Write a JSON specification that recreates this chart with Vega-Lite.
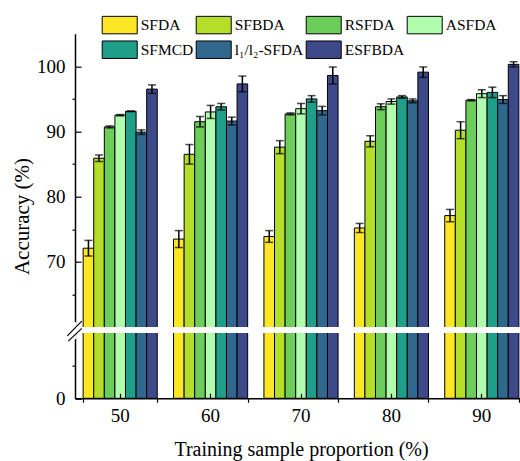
{
  "$schema": "https://vega.github.io/schema/vega-lite/v6.json",
  "width": 452,
  "height": 364.6,
  "autosize": {"type": "none"},
  "padding": {"left": 75, "top": 33.7, "right": 0, "bottom": 62.7},
  "config": {
    "view": {"stroke": null},
    "font": "Liberation Serif",
    "axis": {
      "labelFont": "Liberation Serif",
      "titleFont": "Liberation Serif",
      "labelColor": "black",
      "titleColor": "black",
      "domainColor": "black",
      "tickColor": "black",
      "titleFontWeight": "normal",
      "grid": false
    }
  },
  "data": {
    "values": [
      {"p": "50", "m": "SFDA", "v": 72.1, "lo": 70.9, "hi": 73.3},
      {"p": "50", "m": "SFBDA", "v": 85.9, "lo": 85.4, "hi": 86.4},
      {"p": "50", "m": "RSFDA", "v": 90.7, "lo": 90.55, "hi": 90.85},
      {"p": "50", "m": "ASFDA", "v": 92.5, "lo": 92.4, "hi": 92.6},
      {"p": "50", "m": "SFMCD", "v": 93.1, "lo": 93.05, "hi": 93.15},
      {"p": "50", "m": "l₁/l₂-SFDA", "v": 89.9, "lo": 89.55, "hi": 90.25},
      {"p": "50", "m": "ESFBDA", "v": 96.5, "lo": 95.85, "hi": 97.15},
      {"p": "60", "m": "SFDA", "v": 73.5, "lo": 72.2, "hi": 74.8},
      {"p": "60", "m": "SFBDA", "v": 86.5, "lo": 85.0, "hi": 88.0},
      {"p": "60", "m": "RSFDA", "v": 91.5, "lo": 90.7, "hi": 92.3},
      {"p": "60", "m": "ASFDA", "v": 93.0, "lo": 92.0, "hi": 94.0},
      {"p": "60", "m": "SFMCD", "v": 93.8, "lo": 93.3, "hi": 94.3},
      {"p": "60", "m": "l₁/l₂-SFDA", "v": 91.6, "lo": 91.0, "hi": 92.2},
      {"p": "60", "m": "ESFBDA", "v": 97.3, "lo": 96.1, "hi": 98.5},
      {"p": "70", "m": "SFDA", "v": 73.9, "lo": 73.0, "hi": 74.8},
      {"p": "70", "m": "SFBDA", "v": 87.6, "lo": 86.6, "hi": 88.6},
      {"p": "70", "m": "RSFDA", "v": 92.7, "lo": 92.55, "hi": 92.85},
      {"p": "70", "m": "ASFDA", "v": 93.5, "lo": 92.7, "hi": 94.3},
      {"p": "70", "m": "SFMCD", "v": 95.0, "lo": 94.5, "hi": 95.5},
      {"p": "70", "m": "l₁/l₂-SFDA", "v": 93.2, "lo": 92.55, "hi": 93.85},
      {"p": "70", "m": "ESFBDA", "v": 98.6, "lo": 97.3, "hi": 99.9},
      {"p": "80", "m": "SFDA", "v": 75.2, "lo": 74.5, "hi": 75.9},
      {"p": "80", "m": "SFBDA", "v": 88.5, "lo": 87.65, "hi": 89.35},
      {"p": "80", "m": "RSFDA", "v": 93.8, "lo": 93.35, "hi": 94.25},
      {"p": "80", "m": "ASFDA", "v": 94.6, "lo": 94.2, "hi": 95.0},
      {"p": "80", "m": "SFMCD", "v": 95.3, "lo": 95.1, "hi": 95.5},
      {"p": "80", "m": "l₁/l₂-SFDA", "v": 94.7, "lo": 94.4, "hi": 95.0},
      {"p": "80", "m": "ESFBDA", "v": 99.1, "lo": 98.3, "hi": 99.9},
      {"p": "90", "m": "SFDA", "v": 77.1, "lo": 76.15, "hi": 78.05},
      {"p": "90", "m": "SFBDA", "v": 90.2, "lo": 88.9, "hi": 91.5},
      {"p": "90", "m": "RSFDA", "v": 94.8, "lo": 94.7, "hi": 94.9},
      {"p": "90", "m": "ASFDA", "v": 95.8, "lo": 95.2, "hi": 96.4},
      {"p": "90", "m": "SFMCD", "v": 96.0, "lo": 95.2, "hi": 96.8},
      {"p": "90", "m": "l₁/l₂-SFDA", "v": 94.9, "lo": 94.3, "hi": 95.5},
      {"p": "90", "m": "ESFBDA", "v": 100.3, "lo": 99.9, "hi": 100.7}
    ]
  },
  "resolve": {"axis": {"x": "independent", "y": "independent"}},
  "layer": [
    {
      "mark": {"type": "bar", "stroke": "black", "strokeWidth": 1},
      "encoding": {
        "x": {
          "field": "p",
          "type": "nominal",
          "scale": {"paddingInner": 0.18, "paddingOuter": 0.09},
          "axis": {
            "orient": "bottom",
            "zindex": 1,
            "title": "Training sample proportion (%)",
            "titleFontSize": 20,
            "titlePadding": 14,
            "labelFontSize": 19,
            "labelAngle": 0,
            "labelPadding": 13,
            "tickSize": -5,
            "tickWidth": 1.2,
            "domainWidth": 1.5
          }
        },
        "xOffset": {
          "field": "m",
          "type": "nominal",
          "sort": ["SFDA", "SFBDA", "RSFDA", "ASFDA", "SFMCD", "l₁/l₂-SFDA", "ESFBDA"],
          "scale": {"paddingInner": 0, "paddingOuter": 0}
        },
        "y": {
          "field": "v",
          "type": "quantitative",
          "scale": {"domain": [0, 10, 60, 105], "range": [364.6, 299.4, 293.4, 0], "zero": false, "nice": false},
          "axis": {
            "orient": "left",
            "values": [0, 70, 80, 90, 100],
            "title": "Accuracy (%)",
            "titleFontSize": 21,
            "titlePadding": 4,
            "labelFontSize": 19,
            "labelPadding": 16,
            "tickSize": -6,
            "tickWidth": 1.2,
            "domainWidth": 1.5
          }
        },
        "color": {
          "field": "m",
          "type": "nominal",
          "scale": {
            "domain": ["SFDA", "SFBDA", "RSFDA", "ASFDA", "SFMCD", "l₁/l₂-SFDA", "ESFBDA"],
            "range": ["#fde725", "#b5de2b", "#6ccd5a", "#b0fdae", "#1f9e89", "#31688e", "#3e4989"]
          },
          "legend": {
            "orient": "none",
            "direction": "horizontal",
            "legendX": 26.7,
            "legendY": -18.5,
            "columns": 4,
            "title": null,
            "symbolType": "M-1,-0.97H2.89V0.97H-1Z",
            "symbolSize": 324,
            "symbolStrokeColor": "black",
            "symbolStrokeWidth": 1,
            "symbolOpacity": 1,
            "labelFont": "Liberation Serif",
            "labelFontSize": 15.5,
            "labelColor": "black",
            "labelOffset": 20,
            "columnPadding": 0,
            "rowPadding": 2,
            "padding": 0
          }
        }
      }
    },
    {
      "mark": {"type": "rule", "color": "black", "strokeWidth": 1.5},
      "encoding": {
        "x": {
          "field": "p",
          "type": "nominal",
          "axis": {
            "orient": "bottom",
            "tickBand": "extent",
            "labels": false,
            "domain": false,
            "title": null,
            "tickSize": 4,
            "tickWidth": 1.2
          }
        },
        "xOffset": {"field": "m", "type": "nominal", "sort": ["SFDA", "SFBDA", "RSFDA", "ASFDA", "SFMCD", "l₁/l₂-SFDA", "ESFBDA"]},
        "y": {
          "field": "lo",
          "type": "quantitative",
          "axis": {
            "orient": "left",
            "values": [5, 65, 75, 85, 95],
            "labels": false,
            "domain": false,
            "title": null,
            "tickSize": 3,
            "tickWidth": 1.2
          }
        },
        "y2": {"field": "hi"}
      }
    },
    {
      "mark": {"type": "tick", "color": "black", "size": 8, "thickness": 1.5},
      "encoding": {
        "x": {"field": "p", "type": "nominal", "axis": null},
        "xOffset": {"field": "m", "type": "nominal", "sort": ["SFDA", "SFBDA", "RSFDA", "ASFDA", "SFMCD", "l₁/l₂-SFDA", "ESFBDA"]},
        "y": {"field": "hi", "type": "quantitative", "axis": null}
      }
    },
    {
      "mark": {"type": "tick", "color": "black", "size": 8, "thickness": 1.5},
      "encoding": {
        "x": {"field": "p", "type": "nominal", "axis": null},
        "xOffset": {"field": "m", "type": "nominal", "sort": ["SFDA", "SFBDA", "RSFDA", "ASFDA", "SFMCD", "l₁/l₂-SFDA", "ESFBDA"]},
        "y": {"field": "lo", "type": "quantitative", "axis": null}
      }
    },
    {
      "data": {"values": [{}]},
      "mark": {"type": "rect", "fill": "white"},
      "encoding": {
        "y": {"datum": 10, "type": "quantitative", "axis": null},
        "y2": {"datum": 60}
      }
    },
    {
      "data": {"values": [{}]},
      "mark": {"type": "point", "filled": false, "stroke": "white", "strokeWidth": 3, "size": 4, "shape": "M-8.1,-8L-8.1,9", "opacity": 1},
      "encoding": {
        "x": {"datum": "50", "type": "nominal", "bandPosition": 0, "axis": null},
        "y": {"datum": 35, "type": "quantitative", "axis": null}
      }
    },
    {
      "data": {"values": [{}]},
      "mark": {"type": "point", "filled": false, "stroke": "black", "strokeWidth": 1.2, "size": 4, "shape": "M-15.8,5.7L-1.4,-9M-14.8,11L-1.4,-1.7", "opacity": 1},
      "encoding": {
        "x": {"datum": "50", "type": "nominal", "bandPosition": 0, "axis": null},
        "y": {"datum": 35, "type": "quantitative", "axis": null}
      }
    }
  ]
}
